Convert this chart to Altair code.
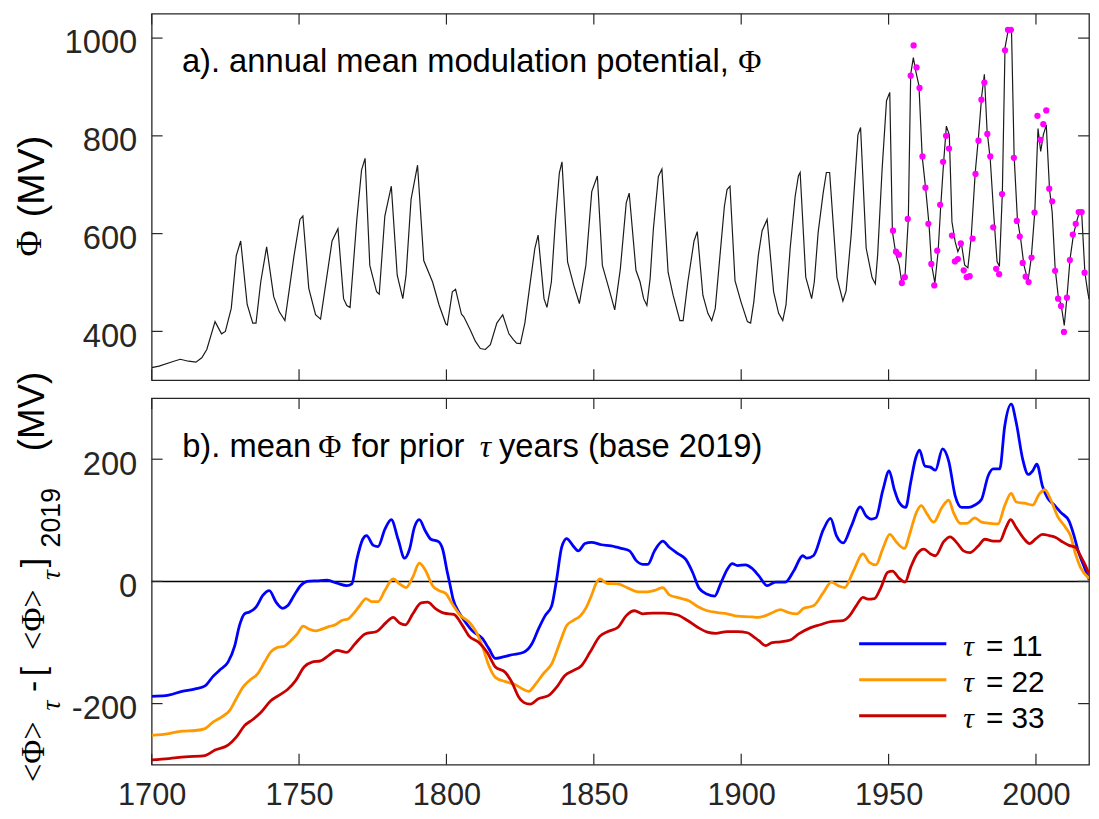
import altair as alt
import pandas as pd

# ---- panel a: annual mean modulation potential (MV) ----
phi_year = [1700.0, 1702.5, 1707.0, 1709.7, 1712.5, 1715.0, 1717.0, 1718.7, 1721.5, 1723.7,
            1725.0, 1727.0, 1728.7, 1730.2, 1732.4, 1734.3, 1735.4, 1737.0, 1739.0, 1741.4,
            1743.3, 1745.2, 1748.3, 1750.3, 1751.3, 1753.3, 1755.6, 1757.3, 1759.5, 1761.2,
            1763.2, 1765.1, 1766.2, 1767.3, 1769.6, 1771.2, 1772.4, 1774.0, 1776.3, 1777.2,
            1779.1, 1781.3, 1783.3, 1785.2, 1786.3, 1788.0, 1790.2, 1792.3, 1795.3, 1797.5,
            1799.8, 1800.3, 1802.0, 1803.1, 1805.1, 1805.9, 1808.1, 1809.8, 1811.5, 1813.2,
            1814.9, 1817.1, 1819.1, 1821.2, 1822.7, 1823.8, 1825.1, 1826.6, 1828.3, 1830.0,
            1831.1, 1833.1, 1834.1, 1835.6, 1837.0, 1838.3, 1839.2, 1841.1, 1843.2, 1845.1,
            1847.3, 1849.3, 1851.2, 1852.9, 1855.1, 1857.1, 1859.0, 1861.0, 1862.0, 1864.3,
            1865.7, 1866.9, 1868.0, 1869.1, 1870.2, 1871.9, 1873.1, 1875.2, 1876.9, 1879.2,
            1880.3, 1881.9, 1884.0, 1885.1, 1887.0, 1888.7, 1890.0, 1891.2, 1892.8, 1894.3,
            1895.2, 1896.2, 1897.9, 1899.9, 1902.1, 1903.2, 1904.3, 1905.8, 1907.1, 1908.8,
            1911.0, 1912.7, 1914.1, 1915.2, 1916.6, 1918.3, 1919.4, 1920.0, 1921.9, 1923.9,
            1924.8, 1926.1, 1927.8, 1928.9, 1930.0, 1932.5, 1934.5, 1935.6, 1937.3, 1939.6,
            1940.5, 1942.4, 1944.4, 1945.5, 1946.3, 1947.8, 1949.3, 1950.4, 1951.3, 1952.5,
            1953.6, 1954.5, 1955.6, 1956.7, 1957.5, 1958.4, 1959.2, 1960.3, 1961.4, 1962.6,
            1963.7, 1964.6, 1965.7, 1966.8, 1967.7, 1968.7, 1969.6, 1970.6, 1971.5, 1972.6,
            1973.5, 1974.7, 1975.8, 1976.9, 1978.0, 1979.4, 1980.5, 1981.6, 1982.5, 1983.4,
            1984.5, 1985.7, 1986.8, 1987.6, 1988.6, 1989.5, 1990.6, 1991.7, 1992.6, 1993.7,
            1994.8, 1995.9, 1997.3, 1998.4, 1999.6, 2000.7, 2001.6, 2002.5, 2003.5, 2004.6,
            2005.5, 2006.5, 2007.6, 2008.5, 2009.6, 2010.5, 2011.6, 2012.7, 2013.6, 2014.7,
            2015.5, 2016.6, 2017.5, 2018.0]
phi_value = [326, 329, 338, 343, 339, 337, 346, 363, 420, 395,
             400, 447, 555, 585, 455, 417, 417, 501, 573, 471,
             440, 422, 555, 629, 636, 488, 434, 425, 515, 585,
             610, 467, 453, 449, 629, 730, 754, 535, 481, 476,
             636, 697, 515, 467, 515, 670, 740, 545, 501, 454,
             415, 413, 481, 486, 435, 430, 403, 380, 365, 363,
             373, 417, 434, 395, 383, 376, 375, 417, 494, 570,
             597, 467, 449, 501, 629, 724, 747, 542, 494, 457,
             535, 686, 718, 535, 488, 444, 528, 663, 683, 525,
             501, 467, 453, 508, 609, 717, 732, 521, 474, 422,
             422, 501, 585, 604, 474, 437, 422, 447, 555, 656,
             690, 697, 504, 461, 420, 417, 461, 555, 606, 629,
             481, 437, 422, 454, 569, 676, 718, 725, 511, 467,
             501, 602, 683, 725, 725, 510, 462, 483, 597, 802,
             817, 570, 510, 497, 557, 731, 872, 889, 604, 557,
             536, 499, 516, 630, 926, 960, 933, 903, 758, 691,
             620, 536, 499, 563, 657, 748, 820, 802, 624, 583,
             563, 580, 536, 530, 590, 725, 798, 882, 926, 812,
             751, 637, 543, 533, 684, 980, 1017, 1017, 758, 630,
             590, 536, 503, 550, 644, 815, 768, 802, 822, 691,
             644, 530, 469, 456, 412, 469, 550, 597, 620, 644,
             644, 520, 483, 466]

# neutron-monitor era annual values (magenta dots), plotted at mid-year
nm_year = list(range(1951, 2017))
nm_value = [606, 563, 557, 499, 511, 630, 923, 985, 940, 898,
            758, 694, 620, 538, 494, 565, 659, 747, 800, 774,
            596, 543, 548, 580, 525, 511, 513, 590, 722, 790,
            874, 909, 804, 758, 613, 528, 517, 681, 975, 1017,
            1017, 755, 626, 594, 540, 512, 501, 551, 643, 841,
            792, 824, 852, 692, 666, 524, 467, 452, 399, 469,
            546, 598, 620, 644, 644, 520]

# ---- panel b: mean phi over prior tau years, minus its 2019 value ----
t11_year = [1700.0, 1704.7, 1710.3, 1714.8, 1718.1, 1720.9, 1723.1, 1725.9, 1728.2, 1729.8,
            1731.5, 1733.2, 1735.4, 1737.7, 1739.9, 1742.2, 1744.4, 1746.1, 1748.3, 1750.5,
            1752.8, 1756.1, 1759.5, 1762.9, 1766.2, 1767.9, 1769.6, 1771.6, 1772.9, 1775.2,
            1776.8, 1779.1, 1781.3, 1783.6, 1785.8, 1787.5, 1789.1, 1790.8, 1792.8, 1794.7,
            1797.3, 1798.7, 1800.3, 1801.2, 1802.2, 1804.3, 1806.5, 1808.8, 1812.1, 1814.4,
            1816.6, 1818.9, 1822.2, 1826.2, 1829.0, 1831.2, 1833.5, 1835.7, 1837.4, 1839.1,
            1840.8, 1843.0, 1844.7, 1847.0, 1849.2, 1852.6, 1855.9, 1859.3, 1862.1, 1864.4,
            1866.6, 1868.3, 1870.6, 1873.4, 1875.6, 1878.4, 1881.2, 1883.5, 1885.7, 1888.5,
            1891.0, 1893.0, 1895.3, 1897.0, 1898.7, 1901.5, 1903.5, 1906.0, 1908.8, 1911.6,
            1915.0, 1917.8, 1920.9, 1922.3, 1924.5, 1927.9, 1930.3, 1932.3, 1934.6, 1937.4,
            1940.4, 1942.4, 1944.1, 1945.7, 1948.0, 1950.2, 1951.9, 1953.6, 1955.8, 1957.5,
            1959.2, 1960.5, 1962.3, 1964.2, 1965.9, 1968.3, 1970.4, 1972.6, 1974.8, 1977.1,
            1979.3, 1981.5, 1983.8, 1985.5, 1987.7, 1989.4, 1991.6, 1993.3, 1995.5, 1997.4,
            1998.9, 2000.3, 2002.2, 2003.9, 2006.2, 2008.4, 2011.2, 2012.9, 2014.5, 2016.2,
            2018.0]
t11_value = [-188, -187, -180, -176, -171, -155, -145, -132, -105, -72,
             -53, -50, -42, -23, -15, -34, -44, -40, -23, -7,
             0, 1, 2, -3, -7, -4, 36, 69, 75, 59,
             57, 85, 101, 69, 38, 53, 88, 101, 83, 69,
             65, 53, 15, -5, -28, -51, -67, -81, -93, -110,
             -126, -124, -120, -116, -102, -78, -56, -40, 4, 56,
             70, 58, 50, 62, 64, 60, 58, 54, 50, 34,
             28, 28, 50, 66, 56, 46, 36, 15, -11, -21,
             -24, -4, 20, 29, 26, 27, 22, 9, -7, -1,
             -1, 17, 42, 38, 42, 85, 103, 75, 63, 91,
             122, 107, 102, 104, 148, 181, 151, 129, 121, 162,
             202, 215, 189, 187, 182, 217, 197, 140, 121, 121,
             125, 134, 173, 184, 184, 254, 290, 260, 200, 175,
             181, 192, 156, 137, 125, 113, 99, 75, 47, 26,
             3]

t22_year = [1700.0, 1705.8, 1710.3, 1714.8, 1718.1, 1720.9, 1723.7, 1726.5, 1728.7, 1731.0,
            1733.2, 1736.0, 1738.3, 1740.5, 1742.7, 1745.0, 1747.2, 1749.4, 1751.4, 1753.3,
            1755.6, 1757.8, 1760.1, 1762.3, 1764.5, 1766.8, 1768.4, 1770.7, 1772.7, 1774.6,
            1776.8, 1779.1, 1781.9, 1784.1, 1786.3, 1788.6, 1790.8, 1793.0, 1795.3, 1797.5,
            1799.8, 1802.0, 1804.8, 1807.6, 1809.9, 1812.1, 1814.4, 1816.6, 1820.0, 1823.4,
            1826.2, 1827.9, 1830.1, 1832.9, 1835.7, 1838.5, 1840.8, 1843.0, 1845.3, 1847.5,
            1849.2, 1850.9, 1852.2, 1854.3, 1858.2, 1861.6, 1864.9, 1868.3, 1871.1, 1873.4,
            1875.6, 1879.0, 1882.4, 1885.2, 1888.5, 1891.9, 1895.3, 1898.7, 1903.7, 1905.5,
            1908.3, 1911.1, 1913.3, 1916.1, 1918.9, 1921.2, 1924.5, 1927.9, 1930.6, 1933.4,
            1935.1, 1937.9, 1941.3, 1943.5, 1945.7, 1948.0, 1950.4, 1952.7, 1955.3, 1957.5,
            1959.2, 1961.1, 1963.1, 1965.3, 1968.1, 1970.4, 1972.0, 1974.3, 1976.5, 1979.3,
            1981.5, 1984.3, 1987.1, 1989.4, 1991.6, 1993.3, 1996.1, 1998.9, 2001.1, 2003.0,
            2005.0, 2007.3, 2010.1, 2011.7, 2013.4, 2015.1, 2018.0]
t22_value = [-252, -249, -245, -244, -241, -230, -222, -211, -192, -173,
             -162, -151, -132, -115, -108, -106, -97, -86, -73, -78,
             -81, -78, -74, -71, -64, -61, -53, -39, -28, -33,
             -33, -15, 4, -4, -10, 7, 30, 17, -7, -15,
             -20, -37, -56, -66, -81, -105, -138, -157, -164, -169,
             -177, -180, -169, -151, -135, -100, -72, -64, -57, -42,
             -23, -2, 4, -3, -4, -11, -17, -17, -14, -10,
             -22, -27, -32, -41, -48, -51, -53, -57, -58, -59,
             -56, -50, -46, -51, -53, -44, -40, -18, -1, -8,
             -10, 15, 45, 31, 27, 53, 77, 64, 54, 83,
             110, 124, 110, 97, 121, 133, 113, 95, 95, 104,
             97, 95, 94, 124, 144, 130, 128, 125, 143, 150,
             134, 107, 88, 75, 45, 23, 5]

t33_year = [1700.0, 1705.8, 1711.4, 1718.1, 1721.5, 1725.9, 1728.7, 1731.5, 1734.3, 1737.1,
            1740.5, 1743.3, 1746.1, 1748.9, 1751.7, 1754.4, 1757.3, 1760.1, 1762.9, 1766.2,
            1769.0, 1772.4, 1776.3, 1779.6, 1781.9, 1784.1, 1786.1, 1788.6, 1791.4, 1793.6,
            1796.4, 1799.2, 1802.5, 1805.4, 1807.6, 1811.0, 1813.8, 1816.6, 1820.0, 1822.2,
            1824.5, 1826.2, 1828.4, 1831.2, 1834.6, 1837.4, 1840.2, 1843.0, 1845.8, 1848.7,
            1852.0, 1854.8, 1858.2, 1861.0, 1863.8, 1866.6, 1870.0, 1873.9, 1878.4, 1881.8,
            1885.2, 1888.5, 1891.3, 1895.3, 1898.7, 1902.1, 1903.8, 1906.0, 1908.3, 1910.5,
            1913.3, 1916.7, 1919.5, 1923.4, 1926.7, 1930.1, 1934.6, 1936.8, 1939.0, 1941.3,
            1943.0, 1945.2, 1947.4, 1949.7, 1951.3, 1953.6, 1955.6, 1957.5, 1959.7, 1962.0,
            1964.2, 1965.9, 1968.7, 1970.9, 1973.2, 1975.4, 1977.6, 1980.4, 1982.7, 1985.5,
            1987.7, 1989.9, 1991.4, 1993.3, 1995.9, 1997.8, 2000.0, 2002.2, 2004.5, 2006.7,
            2008.9, 2011.2, 2013.4, 2015.1, 2016.8, 2018.0]
t33_value = [-292, -290, -287, -285, -276, -268, -255, -236, -226, -214,
             -195, -186, -177, -162, -140, -132, -130, -121, -113, -116,
             -102, -86, -82, -67, -59, -68, -71, -53, -35, -34,
             -45, -52, -54, -72, -89, -100, -116, -140, -149, -165,
             -189, -198, -201, -192, -187, -173, -154, -146, -138, -116,
             -90, -82, -75, -56, -48, -53, -52, -52, -55, -64,
             -75, -83, -85, -82, -82, -84, -89, -97, -105, -100,
             -99, -96, -86, -76, -71, -66, -64, -56, -40, -26,
             -29, -28, -10, 15, 17, 5, -1, 23, 45, 53,
             45, 42, 65, 73, 63, 50, 47, 58, 69, 66,
             66, 89, 101, 88, 70, 62, 70, 77, 75, 72,
             65, 59, 56, 42, 26, 12]

x_ticks = [1700, 1750, 1800, 1850, 1900, 1950, 2000]
a_ticks = [400, 600, 800, 1000]
b_ticks = [-200, 0, 200]
series = ["11", "22", "33"]
colors = ["#0000ff", "#ff9900", "#c80000"]

W, H = 946, 370
SANS = "Liberation Sans"
SERIF = "Liberation Serif"
INK = "#262626"
PAD = {"left": 3, "top": 0, "right": 0, "bottom": -4}

xscale = alt.Scale(domain=[1700, 2018], nice=False, zero=False)
ya_scale = alt.Scale(domain=[300, 1050], nice=False, zero=False)
yb_scale = alt.Scale(domain=[-300, 300], nice=False)


def label(text, x, y, size, font=SANS, style="normal", angle=0):
    return alt.Chart(pd.DataFrame({"t": [text]})).mark_text(
        x=x, y=y, fontSize=size, font=font, fontStyle=style, angle=angle,
        align="left", baseline="alphabetic", color="black",
    ).encode(text="t:N")


def inward_ticks(xenc, yscale, yaxis, yvals):
    # ticks pointing into the frame on all four sides
    xt = pd.DataFrame({"year": x_ticks})
    yt = pd.DataFrame({"v": yvals})
    style = dict(color=INK, strokeWidth=1.2)
    X = alt.X("year:Q", scale=xscale, axis=xenc)
    Y = alt.Y("v:Q", scale=yscale, axis=yaxis)
    return [
        alt.Chart(xt).mark_rule(**style).encode(x=X, y=alt.value(0), y2=alt.value(11)),
        alt.Chart(xt).mark_rule(**style).encode(x=X, y=alt.value(H - 11), y2=alt.value(H)),
        alt.Chart(yt).mark_rule(**style).encode(y=Y, x=alt.value(0), x2=alt.value(11)),
        alt.Chart(yt).mark_rule(**style).encode(y=Y, x=alt.value(W - 11), x2=alt.value(W)),
    ]


# ---------- panel a ----------
ya_axis = alt.Axis(values=a_ticks, format="d", ticks=False, domain=False, grid=False,
                   title=None, labelFontSize=33, labelFont=SANS, labelColor=INK,
                   labelPadding=15, labelOffset=5)
xa = alt.X("year:Q", scale=xscale, axis=None)
ya = alt.Y("v:Q", scale=ya_scale, axis=ya_axis)

phi_df = pd.DataFrame({"year": phi_year, "v": phi_value})
nm_df = pd.DataFrame({"year": [y + 0.5 for y in nm_year], "v": nm_value})

line_a = alt.Chart(phi_df).mark_line(color="#1a1a1a", strokeWidth=1.2, clip=True).encode(x=xa, y=ya)
dots_a = alt.Chart(nm_df).mark_circle(color="#ff00ff", size=40, opacity=1).encode(x=xa, y=ya)

panel_a = alt.layer(
    line_a, dots_a,
    *inward_ticks(None, ya_scale, ya_axis, a_ticks),
    label("a). annual mean modulation potential,", 30.5, 59, 33),
    label("\u03a6", 592, 59, 32, font=SERIF),
    label("(MV)", -108.5, 205.5, 38, angle=270),
    label("\u03a6", -111.5, 245, 36, font=SERIF, angle=270),
).properties(width=W, height=H)

# ---------- panel b ----------
xb_axis = alt.Axis(values=x_ticks, format="d", ticks=False, domain=False, grid=False,
                   title=None, labelFontSize=31, labelFont=SANS, labelColor=INK,
                   labelPadding=16, labelFlush=False)
yb_axis = alt.Axis(values=b_ticks, labelExpr="'' + datum.value", ticks=False, domain=False,
                   grid=False, title=None, labelFontSize=33, labelFont=SANS, labelColor=INK,
                   labelPadding=15, labelOffset=5)
xb = alt.X("year:Q", scale=xscale, axis=xb_axis)
yb = alt.Y("v:Q", scale=yb_scale, axis=yb_axis)

tau_df = pd.concat([
    pd.DataFrame({"year": t11_year, "v": t11_value, "tau": "11"}),
    pd.DataFrame({"year": t22_year, "v": t22_value, "tau": "22"}),
    pd.DataFrame({"year": t33_year, "v": t33_value, "tau": "33"}),
])

zero_b = alt.Chart(pd.DataFrame({"v": [0]})).mark_rule(color="black", strokeWidth=1.5).encode(y=yb)
lines_b = alt.Chart(tau_df).mark_line(strokeWidth=2.8, clip=True, interpolate="monotone").encode(
    x=xb, y=yb,
    color=alt.Color("tau:N", scale=alt.Scale(domain=series, range=colors), legend=None),
)

legend_b = []
for i, (s, c) in enumerate(zip(series, colors)):
    ly = 248 + 36.3 * i
    legend_b.append(
        alt.Chart(pd.DataFrame({"tau": [s]})).mark_rule(color=c, strokeWidth=3).encode(
            x=alt.value(714), x2=alt.value(802), y=alt.value(ly))
    )
    legend_b.append(label("\u03c4", 819, ly + 12, 30, font=SERIF, style="italic"))
    legend_b.append(label("= " + s, 842, ly + 12, 30))

ylab_b = [
    label("<\u03a6>", -108.5, 387.5, 33, font=SERIF, angle=270),
    label("\u03c4", -92.5, 315.2, 28, font=SERIF, style="italic", angle=270),
    label("-", -108.5, 296.5, 34, angle=270),
    label("[", -108.5, 280.7, 34, angle=270),
    label("<\u03a6>", -108.5, 254.2, 33, font=SERIF, angle=270),
    label("\u03c4", -92.5, 183.7, 28, font=SERIF, style="italic", angle=270),
    label("]", -108.5, 170.7, 34, angle=270),
    label("2019", -92.5, 150.7, 27, angle=270),
    label("(MV)", -108.5, 53.7, 37, angle=270),
]

title_b = [
    label("b). mean", 30.8, 59, 33),
    label("\u03a6", 168, 59, 32, font=SERIF),
    label("for prior", 202, 59, 33),
    label("\u03c4", 331, 59, 32, font=SERIF, style="italic"),
    label("years (base 2019)", 350.5, 59, 33),
]

panel_b = alt.layer(
    zero_b, lines_b,
    *inward_ticks(xb_axis, yb_scale, yb_axis, b_ticks),
    *legend_b, *ylab_b, *title_b,
).properties(width=W, height=H)

chart = alt.vconcat(panel_a, panel_b, spacing=18, bounds="flush").properties(
    padding=PAD,
    background="white",
).configure(font=SANS, padding=PAD).configure_view(stroke=INK, strokeWidth=1.3)

chart.save("out.html", embed_options={"renderer": "svg", "actions": False})
